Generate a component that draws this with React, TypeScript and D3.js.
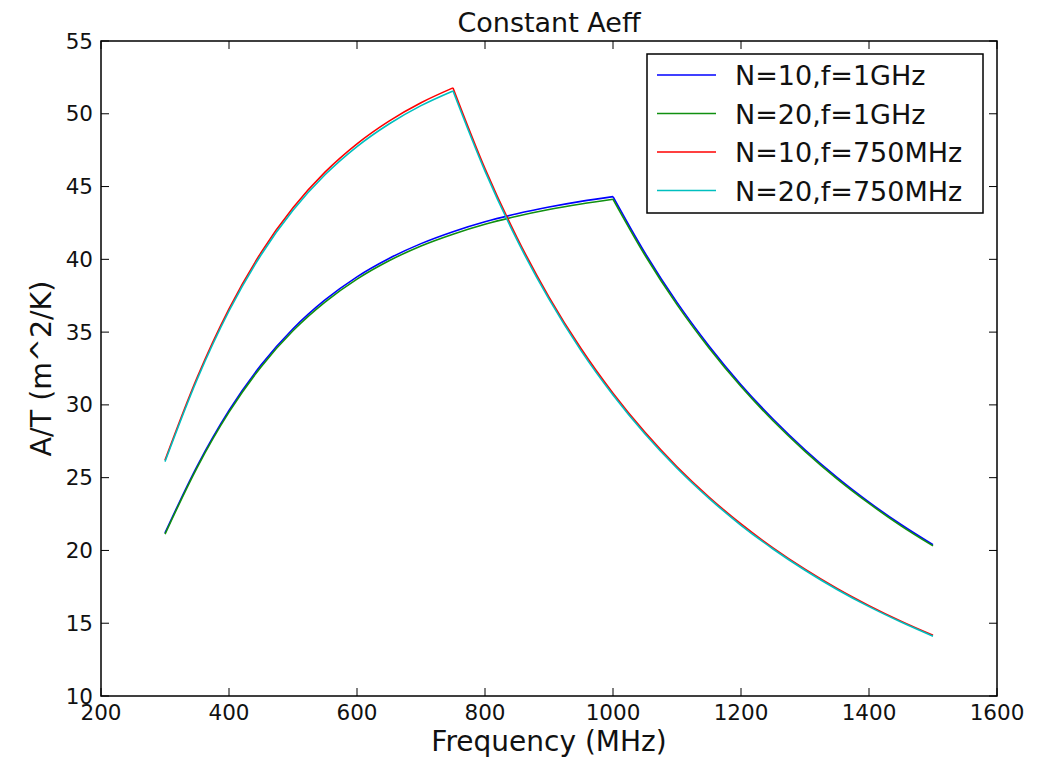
import React from "react";
import * as d3 from "d3";

const freqs = [300,350,400,450,500,550,600,650,700,750,800,850,900,950,1000,1050,1100,1150,1200,1250,1300,1350,1400,1450,1500];
const n10f1G = [21.20,25.78,29.62,32.74,35.23,37.21,38.80,40.06,41.08,41.90,42.58,43.13,43.59,43.98,44.31,40.44,37.04,34.05,31.39,29.03,26.92,25.02,23.32,21.78,20.39];
const n20f1G = [21.12,25.68,29.50,32.61,35.09,37.06,38.64,39.90,40.92,41.73,42.41,42.96,43.42,43.80,44.13,40.28,36.89,33.91,31.26,28.91,26.81,24.92,23.23,21.69,20.31];
const n10f750 = [26.20,31.86,36.60,40.46,43.54,45.99,47.94,49.50,50.76,51.78,46.24,41.50,37.41,33.87,30.80,28.11,25.75,23.67,21.82,20.18,18.71,17.39,16.21,15.14,14.17];
const n20f750 = [26.10,31.73,36.45,40.30,43.37,45.81,47.75,49.30,50.56,51.57,46.06,41.33,37.26,33.73,30.68,28.00,25.65,23.58,21.73,20.10,18.64,17.32,16.14,15.08,14.11];

const seriesNames = ["N=10,f=1GHz", "N=20,f=1GHz", "N=10,f=750MHz", "N=20,f=750MHz"];
const seriesValues = [n10f1G, n20f1G, n10f750, n20f750];
const seriesPeaks = [1000, 1000, 750, 750];
const seriesColors = ["#0000ff", "#109010", "#ff0000", "#00bfbf"];

const xTicks = [200,400,600,800,1000,1200,1400,1600];
const yTicks = [10,15,20,25,30,35,40,45,50,55];

const W = 1037, H = 758;
const L = 101, R = 997, T = 41, B = 696;
const FONT = "DejaVu Sans, sans-serif";

export default function App() {
  const x = d3.scaleLinear().domain([200, 1600]).range([L, R]);
  const y = d3.scaleLinear().domain([10, 55]).range([B, T]);
  const line = d3.line<[number, number]>()
    .x(d => x(d[0]))
    .y(d => y(d[1]))
    .curve(d3.curveMonotoneX);

  const paths: { d: string; color: string; key: string }[] = [];
  seriesValues.forEach((vals, i) => {
    const pts: [number, number][] = freqs.map((f, j) => [f, vals[j]]);
    const rise = pts.filter(p => p[0] <= seriesPeaks[i]);
    const fall = pts.filter(p => p[0] >= seriesPeaks[i]);
    paths.push({ d: line(rise) || "", color: seriesColors[i], key: `r${i}` });
    paths.push({ d: line(fall) || "", color: seriesColors[i], key: `f${i}` });
  });

  const tick = 8;
  const legX = 647, legY = 54, legW = 336, legH = 159;
  const rowY = [75, 113.5, 152, 190.5];

  return (
    <div style={{ position: "absolute", left: 0, top: 0 }}>
      <svg width={W} height={H} style={{ display: "block" }} fontFamily={FONT}>
        <rect x={0} y={0} width={W} height={H} fill="#ffffff" />
        <g>
          {paths.map(p => (
            <path key={p.key} d={p.d} fill="none" stroke={p.color} strokeWidth={1.6} />
          ))}
        </g>
        {xTicks.map(t => (
          <g key={"xt" + t}>
            <line x1={x(t)} x2={x(t)} y1={B} y2={B - tick} stroke="#000" strokeWidth={1} />
            <line x1={x(t)} x2={x(t)} y1={T} y2={T + tick} stroke="#000" strokeWidth={1} />
            <text x={x(t)} y={720} fontSize={21.5} textAnchor="middle" fill="#111">{t}</text>
          </g>
        ))}
        {yTicks.map(t => (
          <g key={"yt" + t}>
            <line x1={L} x2={L + tick} y1={y(t)} y2={y(t)} stroke="#000" strokeWidth={1} />
            <line x1={R} x2={R - tick} y1={y(t)} y2={y(t)} stroke="#000" strokeWidth={1} />
            <text x={L - 8} y={y(t) + 7.5} fontSize={21.5} textAnchor="end" fill="#111">{t}</text>
          </g>
        ))}
        <rect x={L} y={T} width={R - L} height={B - T} fill="none" stroke="#000" strokeWidth={1.5} />
        <text x={(L + R) / 2} y={32} fontSize={27} textAnchor="middle" fill="#111">Constant Aeff</text>
        <text x={(L + R) / 2} y={750.5} fontSize={28} textAnchor="middle" fill="#111">Frequency (MHz)</text>
        <text transform={`translate(51, ${(T + B) / 2}) rotate(-90)`} fontSize={28.5} textAnchor="middle" fill="#111">A/T (m^2/K)</text>
        <rect x={legX} y={legY} width={legW} height={legH} fill="#ffffff" stroke="#000" strokeWidth={1.5} />
        {seriesNames.map((name, i) => (
          <g key={"lg" + i}>
            <line x1={657} x2={716} y1={rowY[i]} y2={rowY[i]} stroke={seriesColors[i]} strokeWidth={1.6} />
            <text x={735} y={rowY[i] + 10} fontSize={27} fill="#111">{name}</text>
          </g>
        ))}
      </svg>
    </div>
  );
}
